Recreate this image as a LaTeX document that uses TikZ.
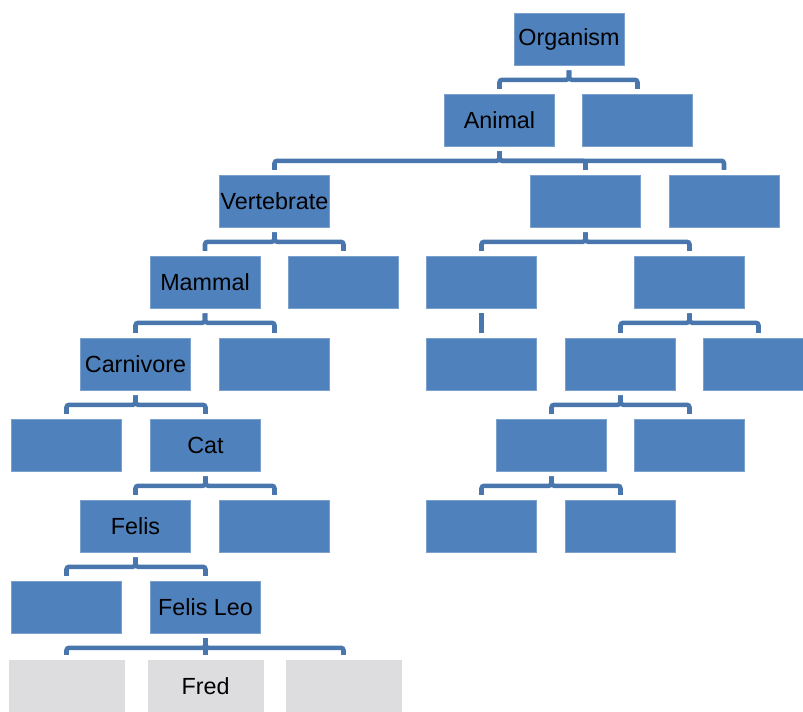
\documentclass[tikz,border=0pt]{standalone}
\usepackage{fontspec}
\setmainfont{Liberation Sans}
\usetikzlibrary{positioning}
\definecolor{boxc}{HTML}{4F81BD}
\definecolor{linkc}{HTML}{4A76AE}
\definecolor{leafc}{HTML}{DDDDDF}
\tikzset{
  taxon/.style={rectangle, fill=boxc, draw=boxc!75!white, line width=0.4pt,
    minimum width=82.5pt, minimum height=39pt, inner sep=0pt,
    font=\fontsize{17.5}{20}\selectfont},
  leaf/.style={taxon, fill=leafc, draw=leafc, minimum width=86pt},
  link/.style={draw=linkc, line width=3.4pt, rounded corners=2pt,
    shorten <=3.8pt, shorten >=3.6pt},
}
\begin{document}
\begin{tikzpicture}[x=0.75pt, y=-0.75pt]
  \useasboundingbox (0,0) rectangle (803,711);
  % level 1-3
  \node[taxon] (org) at (569,39) {Organism};
  \node[taxon] (ani) at (499.5,120) {Animal};
  \node[taxon] (a2) at (637.5,120) {};
  \node[taxon] (vert) at (274.5,201) {Vertebrate};
  \node[taxon] (r3b) at (585.5,201) {};
  \node[taxon] (r3c) at (724,201) {};
  % level 4-5
  \node[taxon] (mam) at (205,282) {Mammal};
  \node[taxon] (r4b) at (343.5,282) {};
  \node[taxon] (r4c) at (481.5,282) {};
  \node[taxon] (r4d) at (689.5,282) {};
  \node[taxon] (carn) at (135.5,364) {Carnivore};
  \node[taxon] (r5b) at (274.5,364) {};
  \node[taxon] (r5c) at (481.5,364) {};
  \node[taxon] (r5d) at (620.5,364) {};
  \node[taxon] (r5e) at (758.5,364) {};
  % level 6-8
  \node[taxon] (r6a) at (66.5,445) {};
  \node[taxon] (cat) at (205.5,445) {Cat};
  \node[taxon] (r6c) at (551.5,445) {};
  \node[taxon] (r6d) at (689.5,445) {};
  \node[taxon] (felis) at (135.5,526) {Felis};
  \node[taxon] (r7b) at (274.5,526) {};
  \node[taxon] (r7c) at (481.5,526) {};
  \node[taxon] (r7d) at (620.5,526) {};
  \node[taxon] (r8a) at (66.5,607) {};
  \node[taxon] (leo) at (205.5,607) {Felis Leo};
  % individuals
  \node[leaf] (r9a) at (66.5,686) {};
  \node[leaf] (fred) at (205.5,686) {Fred};
  \node[leaf] (r9c) at (343.5,686) {};
  % connectors
  \foreach \p/\c in {org/ani, org/a2, ani/vert, ani/r3b, ani/r3c,
      vert/mam, vert/r4b, r3b/r4c, r3b/r4d, mam/carn, mam/r5b, r4c/r5c,
      r4d/r5d, r4d/r5e, carn/r6a, carn/cat, r5d/r6c, r5d/r6d,
      cat/felis, cat/r7b, r6c/r7c, r6c/r7d, felis/r8a, felis/leo,
      leo/r9a, leo/fred, leo/r9c}
    \draw[link] (\p.south) -- ++(0,14.5) -| (\c.north);
\end{tikzpicture}
\end{document}
